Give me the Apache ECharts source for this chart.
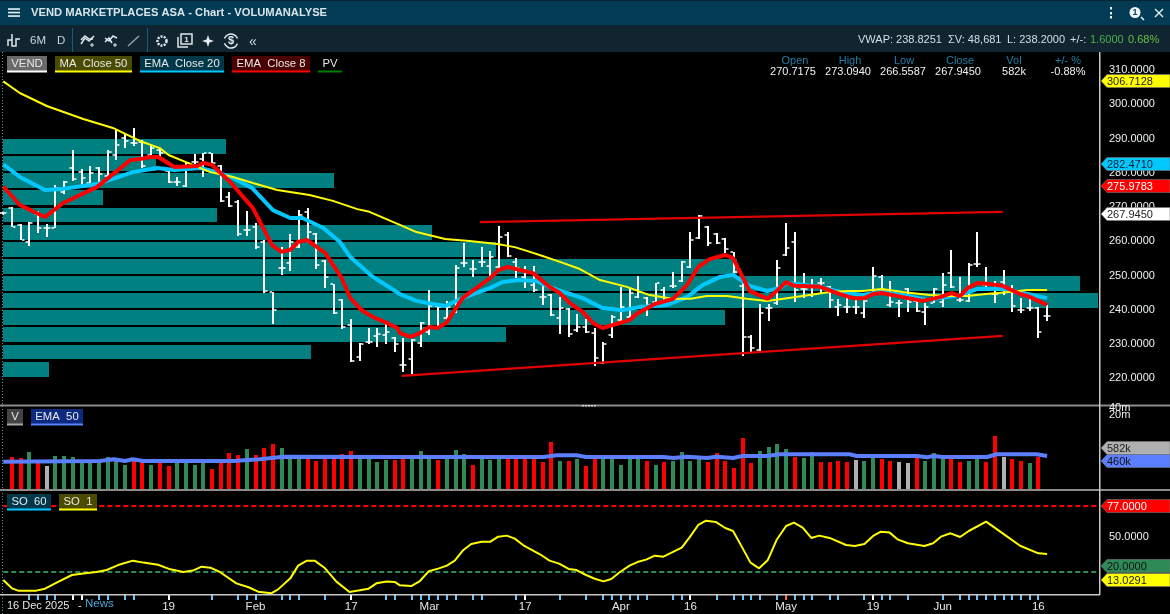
<!DOCTYPE html>
<html><head><meta charset="utf-8">
<style>html,body{margin:0;padding:0;background:#000}#c{width:1170px;height:614px}</style>
<script src="https://cdn.jsdelivr.net/npm/echarts@6/dist/echarts.min.js"></script>
</head><body><div id="c"></div>
<script>
const opens=[268.3,269.7,264.8,259.9,268,264,263.9,274.5,281.3,280.2,277,281.4,279.2,285.2,290.2,288.7,289,285.2,286.7,280.6,277.4,276.2,283.1,284,285.9,282.1,273,271.6,263.3,264.2,259.9,245.1,252.1,253.6,258.4,268.6,262,254.3,247.4,242.9,235.6,226.3,230.7,232.4,232.6,231.7,223.9,225.5,230.3,233.6,241.1,237.6,239.4,253.6,251.8,254,252.8,252.6,261.8,254,249.7,247.2,243.8,244.3,237.5,240.2,234.1,235.1,233.1,224.4,232.6,237,238,243.7,243.4,242.4,245.8,247,248.4,252.4,260.9,264.3,262.1,260.6,256.9,247,232.1,228.3,240.4,241.9,256,259.7,246,244.3,247.7,246.8,240.9,240.9,240.7,239,244.6,249.6,241.4,242.1,246.1,242.7,239.4,242.1,242.4,250.8,242.9,242.6,253.4,247.2,244.6,248.1,246.4,239.9,240.4,240.4,238.2];
const highs=[268.6,269.9,265.1,265.7,268.9,265,276.4,277.6,286.7,281.1,282,281.6,286.7,292.7,291.7,293,289.6,288.1,287.2,280.8,278.9,283.2,285.4,285.9,285.9,282.3,274.3,272.1,268.9,265.4,260.4,245.3,258.3,262.1,269.1,269.6,262.3,254.5,247.4,243.1,237.3,230.2,234.6,234.6,235.9,232,231.9,231.4,236.5,245.8,241.1,242.6,253.1,259.4,254.5,258.3,257.2,264.5,262.8,255,252.8,252.8,247.2,244.6,243.7,240.4,238.7,237.2,234.6,230.5,238.5,246.6,246.3,249.9,243.7,247.9,246.6,251,254.2,262.6,267.7,264.5,262.3,260.9,257,247.7,232.6,241.6,241.6,254.5,265.3,262.6,250.7,248.9,249.2,247,243.1,243.8,243.7,242.9,252.4,250.2,248.5,242.9,246.3,243.1,242,246.3,250.7,257.5,249.5,253.8,262.6,252.6,248.4,251.6,247.2,243.4,243.8,240.7,241.4];
const lows=[267.7,264.1,260.4,258.7,262.5,261.3,263.8,273.8,277.7,276.2,276.4,276.9,278.9,283.7,287.2,287.8,281.3,285.2,284.7,276.9,276.2,275.9,282.5,278.7,282.8,271.6,269.9,261.6,261.6,257.7,245,235.9,250.2,251.3,258.1,259.4,251.8,246.3,238.8,234.3,224.8,225.1,229.9,229.2,230,227.8,221.9,221,229.2,232.6,235.3,236.5,239,252.6,249.7,252.4,249.5,252.1,255.5,249.2,246.3,245.3,241.3,238.2,232.9,232.1,233.6,233.3,223.7,224.1,231.9,236.5,237,243.4,238.2,241.9,240.9,246.3,248.2,252.1,260.6,258.6,259.1,256.5,250.7,226.6,227.5,227.8,236.8,241.4,255.8,242.4,243.4,243.7,244.8,240.4,238.2,239.2,238.8,237.7,244.3,244.3,240.7,238,239.4,239.4,235.6,242,240.9,246.3,242.4,242.4,252.4,246.4,242.1,244.3,239.4,239.2,239.7,231.9,236.8];
const closes=[268.3,264.1,260.4,265.3,264,264,275.5,277.4,278.1,278.5,279.9,279.7,286,288.1,289.4,288.7,282,287.2,285.7,277.4,277.4,282.9,283.1,285.7,282.9,271.8,270.3,262.1,263.3,258.4,245.6,239.9,252.1,259.9,267.7,262.8,253.1,249.5,239,235.1,225.1,229.9,230.7,232.9,233.6,230,223.9,231.2,236.2,241.1,240.7,240.9,252.1,253.6,251.8,254,255.5,261.3,255.7,252.1,248.7,245.8,243.8,238.5,240.5,232.9,235.1,233.6,225.8,230,237.8,240.9,245,245.3,241.4,247.7,242.4,247,254,260.4,267.4,259.6,259.4,257.7,251,232.1,228.8,239,240.4,252.1,258,245.8,246,247,247.7,242.9,241.4,240.9,240.7,242.6,250,245.8,242.4,242.1,242.4,239.7,240.7,246,247.2,246.6,242.9,253.1,253.4,247.2,244.6,246.4,241.1,239.9,240.4,233.4,238.2];
const ma50=[[0,306.7],[1.9,303.3],[5,299.5],[9.2,295.7],[12.6,293.1],[15.7,289.3],[18,287.2],[19,285.2],[21.5,282.6],[23.8,280.2],[26.4,278.8],[28.7,277],[31.5,275],[35.2,273.5],[37.9,271.8],[40.7,269.4],[42.1,268.6],[45.6,264.8],[47.5,262.7],[50.8,260.7],[53.6,260.1],[56.8,259.2],[58.8,258.3],[60.2,257.2],[62,255.7],[64,254],[66.3,251.9],[68.6,248.7],[71.7,246.7],[74.3,244.3],[76.9,243.2],[79,243.2],[80.9,244],[83.2,244],[85.5,243.2],[87.8,242.6],[90.1,243.4],[92.7,244.3],[95,245.2],[97.3,245.5],[98.8,245.5],[101,246.1],[103.4,245.2],[106.5,244.3],[108.8,244],[110.8,244],[113,244.6],[115.7,245.2],[117.7,245.8],[120,245.8]];
const ema20=[[0,282.5],[1.9,278.8],[4.8,275],[6.7,275.3],[10.8,276.7],[14.9,280.2],[17.7,281.4],[19.7,280.8],[22.6,281.4],[24.6,280.2],[26.4,278.5],[28.6,275.6],[31,269.1],[33,266.8],[34.4,266.8],[36.8,263.9],[38.7,259.8],[39.9,255.4],[42.5,249.6],[45.6,244.6],[47.5,242.6],[49.4,241.7],[50.8,241.1],[52.8,243.4],[56,246.4],[57.4,248.1],[59.4,248.7],[61.3,248.4],[62.8,246.7],[64.8,244.9],[66.6,243.4],[68.9,240.5],[71.2,239.9],[73.2,240.8],[76.3,241.4],[78.6,243.7],[80.4,247.2],[82.4,249.6],[83.9,250.2],[85.8,247],[87.8,245.5],[89.3,246.4],[90.1,247.8],[93.9,246.7],[96.2,245.2],[98.8,244.3],[100.8,245.2],[103.4,244.3],[106.2,242.9],[108.5,243.7],[110,244.3],[112,246.1],[114.9,246.1],[117.2,244.9],[120,243.4]];
const ema8=[[0,276],[1.9,270.6],[4.8,267.1],[6.9,271.2],[10.8,275.9],[14.6,283.7],[15.7,284],[16.9,284.6],[17.8,284.6],[19.7,281.7],[22.3,282],[23,282.9],[24,282.3],[26.1,277.3],[28.7,269.7],[30.9,258.9],[32,256.9],[33,257.5],[33.9,259.8],[34.9,260.4],[37,256.6],[38.9,249.3],[39.9,243.4],[41.2,239.9],[42.5,237.9],[43.9,236.4],[45.3,234.7],[45.6,233.2],[46.8,232.1],[47.9,233.2],[49,235],[50,234.7],[51,236.4],[52.8,243.4],[56,249.3],[56.9,251.6],[58,252.5],[60.9,250.7],[62.8,246.7],[64,244.9],[65.1,242],[66.6,239.4],[67.8,236.1],[68.9,234.7],[72,237],[72.8,238.8],[74.9,241.7],[77,243.2],[78.6,247.2],[79.9,252.5],[81.2,254.8],[83,256],[83.9,255.1],[85.8,245.5],[87.9,243.2],[89.3,246.4],[90,248.1],[91,247],[93.9,246.7],[96.2,244.6],[97.7,243.4],[99,243.4],[100,244.6],[101,244.9],[103.4,243.7],[105.7,242.6],[107.7,243.7],[109,244.9],[110,244],[110.9,246.4],[112,247.8],[113.4,247.5],[114.9,247],[116.9,244.6],[117.8,244],[119,242.6],[120,241.4]];
const trendTop=[[54.8,265.6],[114.9,268.6]];
const trendBottom=[[45.8,220.7],[114.9,232.4]];
const pvBandLow=[285.5,280.5,275.5,270.5,265.5,260.5,255.5,250.5,245.5,240.5,235.5,230.5,225.5,220.5];
const pvVolume=[223,153,331,100,214,429,493,734,1077,1095,722,503,308,46];
const volumes=[0,438,420,499,394,315,447,447,434,394,394,394,430,407,329,407,394,329,368,315,368,368,329,368,276,368,486,460,539,460,552,604,552,420,420,420,381,420,420,473,512,420,420,368,394,394,420,420,512,420,394,420,526,473,329,420,394,420,420,420,420,420,368,631,381,381,407,315,420,420,420,329,420,420,381,329,368,381,499,381,420,368,486,381,289,683,355,512,565,604,539,434,420,499,368,368,381,368,394,381,434,407,381,368,355,434,381,486,420,407,368,381,420,368,710,434,407,381,355,434,13];
const redVolumeBars=[1,2,4,15,16,18,19,24,25,26,27,29,30,31,35,36,37,38,39,40,45,46,50,54,58,59,60,61,62,63,65,67,68,74,76,81,82,83,84,85,86,91,94,95,96,97,101,102,105,109,110,113,114,116,117,119];
const grayVolumeBars=[5,98,103,104,115];
const volEma=[[0,372],[11.1,381],[12.7,403],[14,381],[14.9,403],[16.1,381],[26.4,381],[29.5,403],[32.2,438],[45.6,434],[62.1,434],[63.6,456],[65.9,456],[67,434],[75.9,434],[77,420],[78.6,438],[80.9,420],[82,438],[83.9,420],[85,447],[87.8,447],[89.3,469],[97.3,469],[98.1,447],[105,447],[106.2,429],[106.9,447],[108,434],[113.1,434],[114.2,469],[118.8,469],[120,447]];
const so1=[[0,13.1],[1,5.9],[1.7,3.9],[3.8,3.9],[4.8,5.6],[6.3,11.4],[7.9,17.4],[9.2,18.8],[10.7,20],[11.9,21.7],[13.2,26],[14.9,29.8],[16.1,28.1],[17.8,26.3],[19.2,22.3],[20.7,20],[21.8,21.2],[22.8,24.6],[23.8,23.7],[24.9,20],[26.8,10.2],[28.2,6.8],[29.3,3],[30.8,1.6],[31.6,5],[33,14.5],[33.9,25.5],[34.9,29.8],[35.8,29.8],[37,23.2],[38.3,11.7],[39.8,2.7],[42,5.6],[42.9,10.2],[44.1,11.7],[45,11.4],[45.6,8.5],[46.9,7.9],[47.9,12.2],[48.9,20.6],[50,22.9],[51,25.5],[51.9,29.8],[52.9,39],[53.8,44.2],[55,46.2],[56,46.2],[56.9,50.5],[57.9,51.4],[58.8,48.8],[59.9,42.5],[61.7,35.3],[62.8,29.8],[63.9,27.2],[65,22.6],[65.9,21.7],[67,17.4],[68,14.2],[69,11.9],[69.9,14],[70.9,20],[72,25.5],[72.9,28.6],[73.9,30.7],[74.9,34.1],[75.9,33.2],[77,37.3],[78,41],[78.9,49.9],[79.9,60.6],[80.8,64.3],[81.9,63.2],[83,58],[83.9,55.4],[84.9,41.9],[85.9,28.1],[86.9,23.2],[87.9,30.4],[88.9,47.6],[90,59.7],[90.9,62.6],[91.9,58.3],[92.9,49.4],[93.8,51.4],[95,49.4],[96.9,43.3],[97.9,42.5],[99,44.2],[100,51.1],[100.9,54.8],[101.9,54],[102.8,48.2],[104,44.8],[105.9,42.5],[106.9,44.8],[107.8,50.5],[108.9,53.4],[110,50.2],[111,55.4],[113,63.5],[114.9,53.4],[116.9,42.7],[119,36.1],[120,35.5]];
const so60Level=77, soLowLevel=20;
const blueTicks=[3,4,5,6,11,12,14,15,24,27,28,29,32,33,34,37,44,45,47,48,49,50,51,52,54,55,59,64,67,69,70,71,72,73,74,77,78,82,84,85,86,87,89,91,92,93,95,96,99,101,102,104,108,110,111,112,113,114,115,116,117,118,119];
const whiteTicks=[8,9,19,40,60,79,100];
const redTicks=[90];
const dateLabels={19:'19',29:'Feb',40:'17',49:'Mar',60:'17',71:'Apr',79:'16',90:'May',100:'19',108:'Jun',119:'16'};
const priceTicks=[220,230,240,250,260,270,280,290,300,310];
const legendPrice=[['VEND',7,47,'#6a6a6a','#ffffff'],['MA  Close 50',55,132,'#4a4a00','#ffff00'],['EMA  Close 20',140,224,'#00384a','#00c8ff'],['EMA  Close 8',232,310,'#4a0000','#ff0000'],['PV',318,342,'#000000','#008000']];
const legendVolume=[['V',7,23,'#444444','#a8a8a8'],['EMA  50',31,83,'#0d2a80','#5b7fff']];
const legendSO=[['SO  60',7,51,'#00384a','#00c8ff'],['SO  1',59,97,'#4a4a00','#ffff00']];
const quoteHead=[['Open',795],['High',850],['Low',904],['Close',960],['Vol',1014],['+/- %',1068]];
const quoteVals=[['270.7175',793],['273.0940',848],['266.5587',903],['267.9450',958],['582k',1014],['-0.88%',1068]];

const FONT='"Liberation Sans",Arial,sans-serif';
const g=[];
const Z=100;
function rect(x,y,w,h,fill,z){g.push({type:'rect',silent:true,z:z||Z,shape:{x,y,width:w,height:h},style:{fill}});}
function line(x1,y1,x2,y2,stroke,lw,dash,z){g.push({type:'line',silent:true,z:z||Z,shape:{x1,y1,x2,y2},style:{stroke,lineWidth:lw||1,lineDash:dash||null}});}
function txt(x,y,text,fill,size,align,weight){g.push({type:'text',silent:true,z:Z+2,x,y:y+1,style:{text,fill,font:(weight||'normal')+' '+(size||11)+'px '+FONT,textAlign:align||'left',textVerticalAlign:'middle'}});}
function poly(points,style){g.push({type:'polyline',silent:true,z:Z+1,shape:{points},style:Object.assign({fill:null,stroke:'#dfe8ec',lineWidth:1.5},style||{})});}
function tag(y,fill,color,text){g.push({type:'polygon',silent:true,z:Z+1,shape:{points:[[1101,y],[1107,y-6.5],[1170,y-6.5],[1170,y+6.5],[1107,y+6.5]]},style:{fill,stroke:'#777',lineWidth:0.6}});txt(1107,y,text,color,11);}
function legend(items,y){items.forEach(([t,x1,x2,bg,u])=>{rect(x1,y,x2-x1,15,bg);rect(x1,y+14.5,x2-x1,2,u);txt((x1+x2)/2,y+7,t,'#e8e8e8',11.3,'center');});}

// chrome
rect(0,0,1170,25,'#033a54',90);rect(0,0,1170,1,'#0a2430',91);
rect(0,25,1170,27,'#10252f',90);
rect(0,52,1170,562,'#000000',-1);
[9,12.5,16].forEach(y=>rect(8,y-0.8,12,1.7,'#dfe8ec'));
txt(31,12,'VEND MARKETPLACES ASA - Chart - VOLUMANALYSE','#d9e5ea',11.2,'left','bold');
[8,13,17].forEach(y=>rect(1110,y-1,2,2.4,'#e8eef0'));
g.push({type:'circle',silent:true,z:Z+1,shape:{cx:1135,cy:12.5,r:5.5},style:{fill:'#eef3f5'}});
txt(1135,12,'1','#033a54',9,'center','bold');line(1141,17,1144,20,'#eef3f5',1.5);
line(1155,9,1163,17,'#dfe8ec',1.4);line(1163,9,1155,17,'#dfe8ec',1.4);
// toolbar
poly([[8,46],[8,40],[12,40],[12,34],[12,46],[16,46],[16,39],[20,39]]);
txt(30,40,'6M','#c9d6dc',11.5);txt(57,40,'D','#c9d6dc',11.5);
line(72.5,28,72.5,52,'#0f5f80',1);line(147.5,28,147.5,52,'#0f5f80',1);
poly([[81,44],[85,38],[89,41],[94,36]]);poly([[81,40],[85,36],[89,39],[93,39]]);line(92,43,92,47,'#dfe8ec',1);line(90,45,94,45,'#dfe8ec',1);
poly([[105,38],[109,41],[113,36],[117,38]]);poly([[105,42],[109,38],[112,43]]);line(115,43,115,47,'#dfe8ec',1);line(113,45,117,45,'#dfe8ec',1);
line(128,46,139,36,'#8fa2ab',1.5);
g.push({type:'circle',silent:true,z:Z+1,shape:{cx:162,cy:41,r:4.5},style:{fill:null,stroke:'#dfe8ec',lineWidth:2.5,lineDash:[2,1.2]}});
poly([[178,37],[178,47],[188,47]]);g.push({type:'rect',silent:true,z:Z+1,shape:{x:181,y:34,width:11,height:10},style:{fill:null,stroke:'#dfe8ec',lineWidth:1.5}});txt(186.5,38.5,'1','#dfe8ec',8,'center','bold');
g.push({type:'polygon',silent:true,z:Z+1,shape:{points:[[208,35],[209.5,39.5],[214,41],[209.5,42.5],[208,47],[206.5,42.5],[202,41],[206.5,39.5]]},style:{fill:'#e8eef0'}});
g.push({type:'arc',silent:true,z:Z+1,shape:{cx:231,cy:41,r:7,startAngle:0.4,endAngle:2.8},style:{stroke:'#dfe8ec',fill:null,lineWidth:1.5}});
g.push({type:'arc',silent:true,z:Z+1,shape:{cx:231,cy:41,r:7,startAngle:3.5,endAngle:5.9},style:{stroke:'#dfe8ec',fill:null,lineWidth:1.5}});
txt(231,40,'$','#dfe8ec',11,'center','bold');
txt(249,41,'«','#c9d6dc',14);
txt(858,39,'VWAP: 238.8251','#d3dfe5',11);txt(948,39,'ΣV: 48,681','#d3dfe5',11);txt(1007,39,'L: 238.2000','#d3dfe5',11);txt(1070,39,'+/-:','#d3dfe5',11);
txt(1090,39,'1.6000','#4fb04f',11);txt(1128,39,'0.68%','#6abf45',11);
// legends and quote block
legend(legendPrice,56);legend(legendVolume,409);legend(legendSO,494);
quoteHead.forEach(([t,x])=>txt(x,60,t,'#1f7fa8',11,'center'));
quoteVals.forEach(([t,x])=>txt(x,70.5,t,'#eef2f4',11,'center'));
// separators
rect(0,404.5,1170,2,'#8c8c8c');rect(0,489,1170,2,'#8c8c8c');rect(0,594,1100,1.5,'#c8c8c8');
rect(1099,52,1.5,543,'#c8c8c8');
for(let i=0;i<5;i++)rect(582+i*3,405,2,1.6,'#d0d0d0',Z+1);
line(2.5,52,2.5,614,'#5f8ea0',1,[1,2]);
// right tags
tag(81,'#ffff00','#222','306.7128');tag(164,'#00c8ff','#123','282.4710');tag(186,'#ff0000','#fff','275.9783');tag(214,'#ffffff','#222','267.9450');
tag(448,'#b0b0b0','#222','582k');tag(461,'#5b7fff','#111','460k');
tag(506,'#ff0000','#fff','77.0000');tag(566,'#2e8b57','#111','20.0000');tag(580,'#ffff00','#222','13.0291');
txt(1109,407,'40m','#eef2f4',11);txt(1109,414,'20m','#eef2f4',11);txt(1109,536,'50.0000','#eef2f4',11);
// footer
txt(7,605,'16 Dec 2025','#e4e8ea',11);txt(78,605,'-','#e4e8ea',11);txt(85,603,'News','#4ea4d8',11.5);

const xBase={type:'value',min:-0.03,max:125.97,show:false};
const option={
 animation:false,backgroundColor:'#000',textStyle:{fontFamily:FONT},
 grid:[{left:3,width:1096,top:52,height:353.5},{left:3,width:1096,top:405.5,height:84.5},{left:3,width:1096,top:490,height:104}],
 xAxis:[
  Object.assign({gridIndex:0},xBase),
  Object.assign({gridIndex:1},xBase),
  Object.assign({gridIndex:2},xBase,{show:true,position:'bottom',axisLine:{show:false},axisTick:{show:false},splitLine:{show:false},
    axisLabel:{show:true,customValues:Object.keys(dateLabels).map(Number),formatter:v=>dateLabels[Math.round(v)]||'',color:'#e4e8ea',fontSize:11.5,margin:7,fontFamily:FONT,hideOverlap:false,showMinLabel:true,showMaxLabel:true}}),
  {gridIndex:0,type:'value',min:0,max:1096,show:false}
 ],
 yAxis:[
  {gridIndex:0,type:'value',position:'right',min:212.06,max:315.27,splitLine:{show:false},axisLine:{show:false},axisTick:{show:false},
   axisLabel:{customValues:priceTicks,formatter:v=>v.toFixed(4),color:'#eef2f4',fontSize:11,margin:10,fontFamily:FONT,padding:[3,0,0,0]}},
  {gridIndex:1,type:'value',min:0,max:1110,show:false},
  {gridIndex:2,type:'value',min:1,max:90.8,show:false}
 ],
 graphic:{elements:g},
 series:[
  {type:'custom',name:'PV',xAxisIndex:3,yAxisIndex:0,z:1,silent:true,
   data:pvBandLow.map((l,k)=>[pvVolume[k],l,l+4.35]),encode:{x:0,y:[1,2]},
   renderItem:(p,api)=>{const a=api.coord([0,api.value(2)]),b=api.coord([api.value(0),api.value(1)]);
     return {type:'rect',shape:{x:a[0],y:Math.round(a[1]),width:b[0]-a[0],height:Math.round(b[1])-Math.round(a[1])},style:{fill:'#008080'}};}},
  {type:'custom',name:'VEND',xAxisIndex:0,yAxisIndex:0,z:2,silent:true,
   data:opens.map((o,i)=>[i,o,highs[i],lows[i],closes[i]]),encode:{x:0,y:[1,2,3,4]},
   renderItem:(p,api)=>{const i=api.value(0);const x=Math.round(api.coord([i,0])[0]);
     const Y=v=>Math.round(api.coord([i,v])[1]);
     const hy=Y(api.value(2)),ly=Y(api.value(3)),oy=Y(api.value(1)),cy=Y(api.value(4));
     const s={fill:'#ffffff'};
     return {type:'group',children:[
      {type:'rect',shape:{x:x-1,y:hy,width:2,height:Math.max(ly-hy,1)},style:s},
      {type:'rect',shape:{x:x-3.5,y:oy-0.75,width:2.5,height:1.5},style:s},
      {type:'rect',shape:{x:x+1,y:cy-0.75,width:2.5,height:1.5},style:s}]};}},
  {type:'line',name:'EMA Close 20',xAxisIndex:0,yAxisIndex:0,z:3,data:ema20,showSymbol:false,silent:true,lineStyle:{color:'#00c8ff',width:4}},
  {type:'line',name:'MA Close 50',xAxisIndex:0,yAxisIndex:0,z:4,data:ma50,showSymbol:false,silent:true,lineStyle:{color:'#ffff00',width:2}},
  {type:'line',name:'EMA Close 8',xAxisIndex:0,yAxisIndex:0,z:5,data:ema8,showSymbol:false,silent:true,lineStyle:{color:'#ff0000',width:4}},
  {type:'line',name:'Trend top',xAxisIndex:0,yAxisIndex:0,z:5,data:trendTop,showSymbol:false,silent:true,lineStyle:{color:'#e00000',width:2.4}},
  {type:'line',name:'Trend bottom',xAxisIndex:0,yAxisIndex:0,z:5,data:trendBottom,showSymbol:false,silent:true,lineStyle:{color:'#e00000',width:2.4}},
  {type:'custom',name:'V',xAxisIndex:1,yAxisIndex:1,z:2,silent:true,
   data:volumes.map((v,i)=>[i,v,redVolumeBars.includes(i)?0:grayVolumeBars.includes(i)?1:2]),encode:{x:0,y:1},
   renderItem:(p,api)=>{const a=api.coord([api.value(0),api.value(1)]);const x=Math.round(a[0]);const y=Math.round(a[1]);
     return {type:'rect',shape:{x:x-2,y,width:4,height:490-y},style:{fill:['#ff0000','#b0b0b0','#2e8b57'][api.value(2)]}};}},
  {type:'line',name:'EMA 50',xAxisIndex:1,yAxisIndex:1,z:3,data:volEma,showSymbol:false,silent:true,lineStyle:{color:'#5b7fff',width:4}},
  {type:'line',name:'SO 60',xAxisIndex:2,yAxisIndex:2,z:2,data:[[0,so60Level],[126,so60Level]],showSymbol:false,silent:true,lineStyle:{color:'#ff0000',width:2,type:[5,3]}},
  {type:'line',name:'SO low',xAxisIndex:2,yAxisIndex:2,z:2,data:[[0,soLowLevel],[126,soLowLevel]],showSymbol:false,silent:true,lineStyle:{color:'#2e8b57',width:2,type:[5,3]}},
  {type:'line',name:'SO 1',xAxisIndex:2,yAxisIndex:2,z:3,data:so1,showSymbol:false,silent:true,lineStyle:{color:'#ffff00',width:2}},
  {type:'custom',name:'News',xAxisIndex:2,yAxisIndex:2,z:4,silent:true,clip:false,
   data:[].concat(blueTicks.map(i=>[i,0]),whiteTicks.map(i=>[i,1]),redTicks.map(i=>[i,2])),encode:{x:0},
   renderItem:(p,api)=>{const x=Math.round(api.coord([api.value(0),1])[0]);
     return {type:'rect',shape:{x:x-1,y:595,width:2,height:5},style:{fill:['#6ec6ff','#ffffff','#ff6a5a'][api.value(1)]}};}}
 ]
};
echarts.init(document.getElementById('c'),null,{renderer:'canvas'}).setOption(option);
</script></body></html>
